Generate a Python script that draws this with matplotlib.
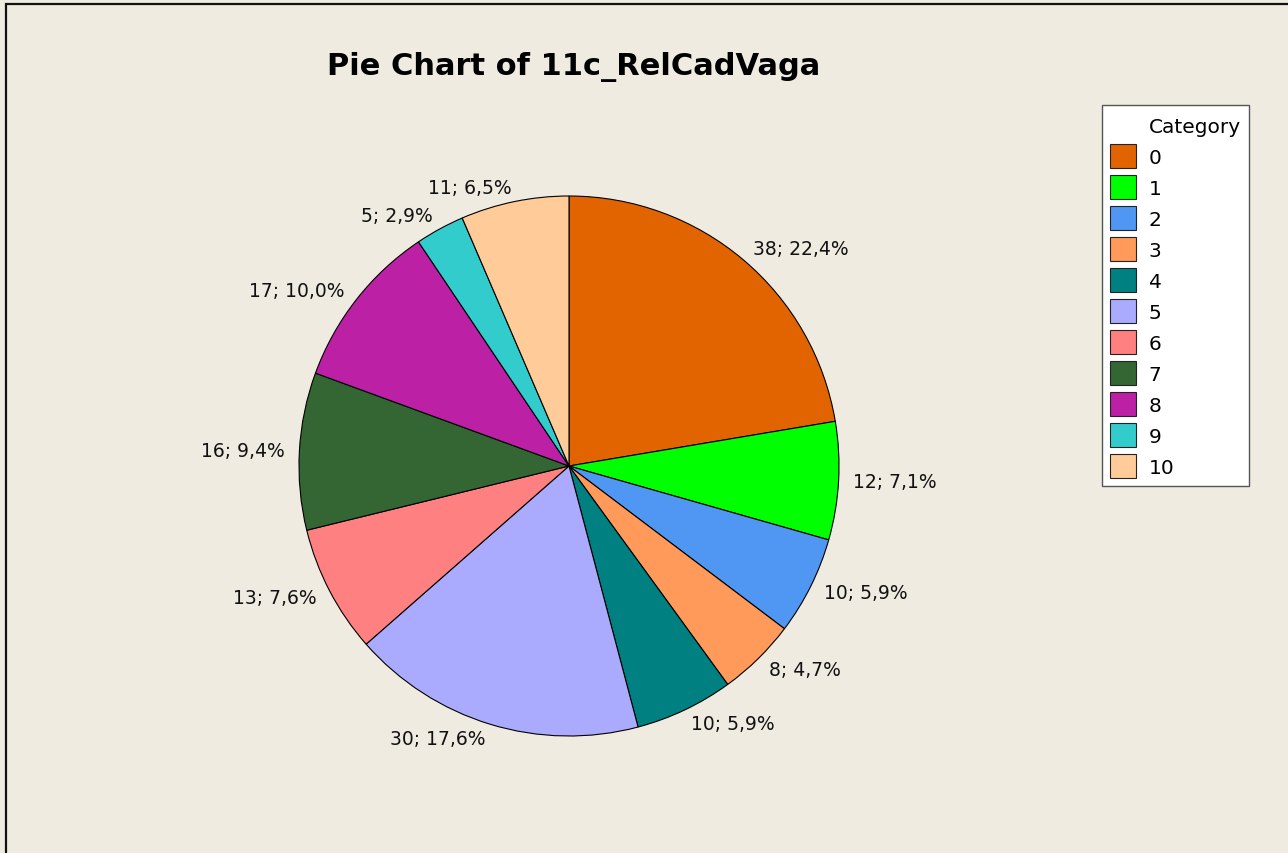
import matplotlib
matplotlib.use("Agg")
import matplotlib.pyplot as plt
from matplotlib.patches import Patch, Rectangle

categories = ["0", "1", "2", "3", "4", "5", "6", "7", "8", "9", "10"]
counts = [38, 12, 10, 8, 10, 30, 13, 16, 17, 5, 11]
colors = ["#E26400", "#00FF00", "#4F97F2", "#FF9A5A", "#008080", "#AAAAFF",
          "#FF8080", "#336633", "#BC20A4", "#33CCCC", "#FFCC99"]
title = "Pie Chart of 11c_RelCadVaga"

W, H = 1288, 854
bg = "#EFEBE1"
fig = plt.figure(figsize=(W / 100, H / 100), dpi=100, facecolor=bg)

# outer frame (left/top visible)
fig.patches.append(Rectangle((6 / W, -0.01), 1.2, 1 - 5 / H + 0.01, transform=fig.transFigure,
                             fill=False, edgecolor="#111111", linewidth=1.6))

cx, cy, r = 569, 467, 270
ax = fig.add_axes([(cx - r) / W, (H - cy - r) / H, 2 * r / W, 2 * r / H])
ax.set_facecolor("none")
total = sum(counts)
labels = [f"{c}; {100 * c / total:.1f}%".replace(".", ",") for c in counts]
wedges, texts = ax.pie(counts, colors=colors, startangle=90, counterclock=False,
                       labels=labels, labeldistance=1.055,
                       wedgeprops=dict(edgecolor="black", linewidth=0.8),
                       textprops=dict(fontsize=13.5, color="#111111"))
ax.set_xlim(-1, 1)
ax.set_ylim(-1, 1)
ax.set_aspect("equal")
ax.axis("off")

fig.text(574 / W, 1 - 67 / H, title, ha="center", va="center",
         fontsize=22, fontweight="bold", color="black")

handles = [Patch(facecolor="none", edgecolor="none", label="Category")]
handles += [Patch(facecolor=c, edgecolor="#222222", linewidth=0.8, label=lab)
            for c, lab in zip(colors, categories)]
fs = 14.5
leg = fig.legend(handles=handles, loc="upper left",
                 bbox_to_anchor=(1102 / W, 1 - 106 / H), bbox_transform=fig.transFigure,
                 borderaxespad=0, fontsize=fs, handlelength=1.25, handleheight=1.45,
                 labelspacing=0.35, handletextpad=0.65, borderpad=0.42,
                 fancybox=False, shadow=False, framealpha=1, edgecolor="#555555")
leg.get_frame().set_linewidth(1.0)

fig.savefig("out.png", dpi=100, facecolor=bg)
